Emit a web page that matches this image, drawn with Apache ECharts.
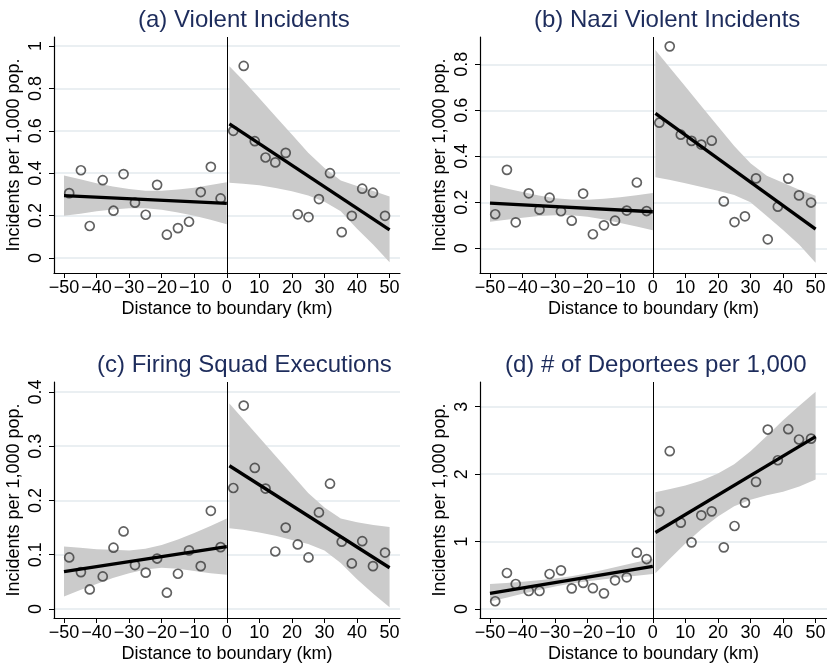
<!DOCTYPE html>
<html><head><meta charset="utf-8">
<script src="https://cdn.jsdelivr.net/npm/echarts@6/dist/echarts.min.js"></script>
<style>html,body{margin:0;padding:0;background:#fff}#c{width:827px;height:666px}</style>
</head><body><div id="c"></div>
<script>
// shared x positions (km)
const binXLeft = [-48.4,-44.8,-42.1,-38.1,-34.8,-31.7,-28.2,-24.9,-21.4,-18.4,-15.0,-11.6,-8.0,-4.9,-1.9];
const binXRight = [2.0,5.2,8.6,11.9,14.9,18.1,21.8,25.1,28.3,31.7,35.3,38.4,41.6,44.9,48.6];
const bandXLeft = [-50,-45,-40,-35,-30,-25,-20,-15,-10,-5,0];
const bandXRight = [0.8,5,10,15,20,25,30,35,40,45,50];
const fitXLeft = [-50, 0];
const fitXRight = [0.8, 50];
const xTicks = [-50,-40,-30,-20,-10,0,10,20,30,40,50];

// (a)
const aTitle = '(a) Violent Incidents';
const aLeft = [0.306,0.414,0.151,0.367,0.223,0.396,0.261,0.204,0.345,0.110,0.141,0.171,0.311,0.430,0.281];
const aRight = [0.600,0.906,0.551,0.474,0.451,0.496,0.206,0.193,0.278,0.400,0.122,0.199,0.327,0.308,0.199];
const aFitLeft = [0.294,0.258];
const aFitRight = [0.633,0.133];
const aBandLeftHi = [0.389,0.371,0.353,0.337,0.325,0.317,0.317,0.323,0.331,0.344,0.357];
const aBandLeftLo = [0.199,0.209,0.221,0.229,0.235,0.235,0.227,0.215,0.199,0.180,0.159];
const aBandRightHi = [0.905,0.839,0.754,0.668,0.582,0.497,0.425,0.366,0.340,0.316,0.290];
const aBandRightLo = [0.355,0.350,0.343,0.330,0.315,0.295,0.265,0.220,0.138,0.062,-0.020];
const aYTicks = [0,0.2,0.4,0.6,0.8,1];

// (b)
const bTitle = '(b) Nazi Violent Incidents';
const bLeft = [0.148,0.341,0.113,0.239,0.168,0.220,0.161,0.120,0.238,0.061,0.100,0.120,0.164,0.286,0.162];
const bRight = [0.546,0.878,0.494,0.467,0.451,0.468,0.204,0.114,0.139,0.304,0.039,0.181,0.303,0.230,0.199];
const bFitLeft = [0.196,0.159];
const bFitRight = [0.587,0.083];
const bBandLeftHi = [0.277,0.260,0.245,0.230,0.218,0.212,0.211,0.215,0.222,0.231,0.240];
const bBandLeftLo = [0.115,0.124,0.133,0.140,0.144,0.144,0.137,0.125,0.110,0.095,0.078];
const bBandRightHi = [0.862,0.789,0.703,0.617,0.531,0.445,0.370,0.315,0.285,0.255,0.229];
const bBandRightLo = [0.309,0.298,0.283,0.266,0.250,0.232,0.200,0.140,0.080,0.015,-0.063];
const bYTicks = [0,0.2,0.4,0.6,0.8];

// (c)
const cTitle = '(c) Firing Squad Executions';
const cLeft = [0.095,0.068,0.036,0.060,0.113,0.143,0.081,0.067,0.093,0.030,0.065,0.108,0.079,0.181,0.114];
const cRight = [0.223,0.375,0.260,0.222,0.106,0.150,0.119,0.095,0.178,0.231,0.124,0.084,0.125,0.079,0.104];
const cFitLeft = [0.069,0.115];
const cFitRight = [0.264,0.076];
const cBandLeftHi = [0.115,0.113,0.110,0.109,0.108,0.111,0.118,0.128,0.140,0.153,0.167];
const cBandLeftLo = [0.023,0.035,0.046,0.057,0.066,0.073,0.076,0.074,0.070,0.066,0.063];
const cBandRightHi = [0.379,0.350,0.316,0.282,0.248,0.214,0.187,0.167,0.160,0.155,0.151];
const cBandRightLo = [0.149,0.146,0.141,0.135,0.127,0.120,0.108,0.085,0.055,0.028,0.003];
const cYTicks = [0,0.1,0.2,0.3,0.4];

// (d)
const dTitle = '(d) # of Deportees per 1,000';
const dLeft = [0.115,0.534,0.371,0.267,0.267,0.519,0.573,0.306,0.386,0.309,0.232,0.425,0.470,0.835,0.741];
const dRight = [1.448,2.340,1.280,0.988,1.389,1.448,0.914,1.231,1.577,1.885,2.661,2.206,2.666,2.513,2.526];
const dFitLeft = [0.232,0.632];
const dFitRight = [1.134,2.555];
const dBandLeftHi = [0.370,0.386,0.405,0.427,0.453,0.487,0.531,0.583,0.637,0.692,0.745];
const dBandLeftLo = [0.110,0.168,0.225,0.281,0.333,0.377,0.413,0.441,0.467,0.493,0.520];
const dBandRightHi = [1.730,1.775,1.830,1.905,2.010,2.145,2.340,2.565,2.800,3.015,3.220];
const dBandRightLo = [0.530,0.735,0.970,1.185,1.370,1.525,1.620,1.685,1.740,1.815,1.920];
const dYTicks = [0,1,2,3];

const xName = 'Distance to boundary (km)';
const yName = 'Incidents per 1,000 pop.';

const FONT = '"Liberation Sans", Arial, sans-serif';
const TITLE_COLOR = '#1d2c5c';
const GRID_COLOR = '#e3eaee';
const BAND_COLOR = '#cbcbcb';

const panels = [
  {title:aTitle, tl:138, tt:8, L:aLeft, R:aRight, fl:aFitLeft, fr:aFitRight, blh:aBandLeftHi, bll:aBandLeftLo, brh:aBandRightHi, brl:aBandRightLo, yt:aYTicks,
   grid:{left:54, top:37, width:346, height:236}, xr:[-53.07,53.2], yr:[-0.0708,1.0425]},
  {title:bTitle, tl:534, tt:8, L:bLeft, R:bRight, fl:bFitLeft, fr:bFitRight, blh:bBandLeftHi, bll:bBandLeftLo, brh:bBandRightHi, brl:bBandRightLo, yt:bYTicks,
   grid:{left:480, top:37, width:347, height:236}, xr:[-53.07,53.5], yr:[-0.1074,0.9187]},
  {title:cTitle, tl:97, tt:353, L:cLeft, R:cRight, fl:cFitLeft, fr:cFitRight, blh:cBandLeftHi, bll:cBandLeftLo, brh:cBandRightHi, brl:cBandRightLo, yt:cYTicks,
   grid:{left:54, top:382, width:346, height:236}, xr:[-53.07,53.2], yr:[-0.0166,0.4184]},
  {title:dTitle, tl:505, tt:353, L:dLeft, R:dRight, fl:dFitLeft, fr:dFitRight, blh:dBandLeftHi, bll:dBandLeftLo, brh:dBandRightHi, brl:dBandRightLo, yt:dYTicks,
   grid:{left:480, top:382, width:347, height:236}, xr:[-53.07,53.5], yr:[-0.1335,3.366]}
];

function zip(xs, ys){ return xs.map((x,i)=>[x, ys[i]]); }
function fmtNum(v){ return v < 0 ? '\u2212' + Math.abs(v) : String(v); }

function bandSeries(xs, hi, lo, gi){
  return {
    type:'custom', xAxisIndex:gi, yAxisIndex:gi, z:1, silent:true,
    data:[0],
    renderItem:function(params, api){
      const pts = [];
      for (let i=0;i<xs.length;i++) pts.push(api.coord([xs[i], hi[i]]));
      for (let i=xs.length-1;i>=0;i--) pts.push(api.coord([xs[i], lo[i]]));
      return {type:'polygon', shape:{points:pts}, style:{fill:BAND_COLOR, stroke:null}};
    }
  };
}

const option = {
  animation:false,
  backgroundColor:'#fff',
  title:[], grid:[], xAxis:[], yAxis:[], series:[]
};

panels.forEach((p, gi) => {
  option.title.push({text:p.title, left:p.tl, top:p.tt, padding:0,
    textStyle:{fontFamily:FONT, fontSize:24, fontWeight:'normal', color:TITLE_COLOR}});
  option.grid.push(Object.assign({outerBoundsMode:'none', containLabel:false}, p.grid));
  option.xAxis.push({
    type:'value', gridIndex:gi, min:p.xr[0], max:p.xr[1],
    name:xName, nameLocation:'middle', nameGap:27,
    nameTextStyle:{fontFamily:FONT, fontSize:18, color:'#000'},
    axisLine:{show:true, onZero:false, lineStyle:{color:'#000', width:1.2}},
    axisTick:{show:true, length:5, customValues:xTicks, lineStyle:{color:'#000', width:1}},
    axisLabel:{customValues:xTicks, formatter:fmtNum, margin:6, fontFamily:FONT, fontSize:18, color:'#000'},
    splitLine:{show:false}
  });
  option.yAxis.push({
    type:'value', gridIndex:gi, min:p.yr[0], max:p.yr[1],
    name:yName, nameLocation:'middle', nameGap:31,
    nameTextStyle:{fontFamily:FONT, fontSize:18, color:'#000'},
    axisLine:{show:true, onZero:false, lineStyle:{color:'#000', width:1.2}},
    axisTick:{show:true, length:5, customValues:p.yt, lineStyle:{color:'#000', width:1}},
    axisLabel:{customValues:p.yt, rotate:90, margin:9, fontFamily:FONT, fontSize:18, color:'#000', formatter:fmtNum},
    splitLine:{show:true, lineStyle:{color:GRID_COLOR, width:1.5}}
  });
  option.series.push(bandSeries(bandXLeft, p.blh, p.bll, gi));
  option.series.push(bandSeries(bandXRight, p.brh, p.brl, gi));
  option.series.push({
    type:'line', xAxisIndex:gi, yAxisIndex:gi, data:[], z:2, silent:true,
    markLine:{silent:true, symbol:['none','none'], label:{show:false},
      lineStyle:{color:'#000', width:1, type:'solid'}, data:[{xAxis:0}]}
  });
  const sc = {
    type:'scatter', xAxisIndex:gi, yAxisIndex:gi, z:3, symbol:'circle', symbolSize:9, silent:true,
    itemStyle:{color:'rgba(0,0,0,0)', borderColor:'#3a3a3a', borderWidth:1.7}
  };
  option.series.push(Object.assign({}, sc, {data:zip(binXLeft, p.L)}));
  option.series.push(Object.assign({}, sc, {data:zip(binXRight, p.R)}));
  const ln = {type:'line', xAxisIndex:gi, yAxisIndex:gi, z:4, symbol:'none', silent:true,
    lineStyle:{color:'#000', width:3.3}};
  option.series.push(Object.assign({}, ln, {data:zip(fitXLeft, p.fl)}));
  option.series.push(Object.assign({}, ln, {data:zip(fitXRight, p.fr)}));
});

const chart = echarts.init(document.getElementById('c'), null, {renderer:'canvas'});
chart.setOption(option);
</script></body></html>
